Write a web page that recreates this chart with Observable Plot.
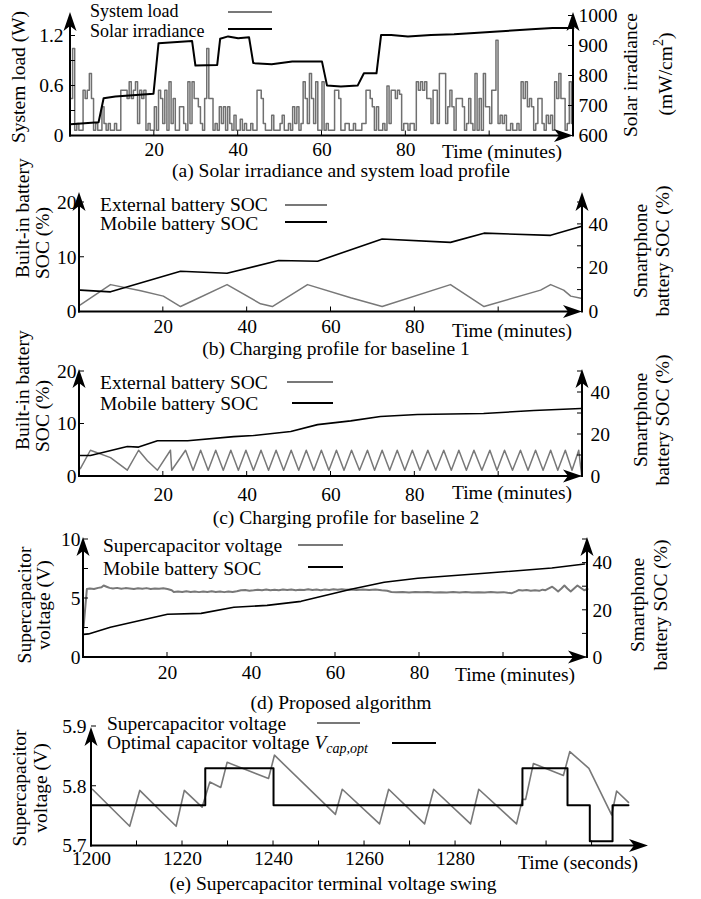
<!DOCTYPE html>
<html><head><meta charset="utf-8">
<script src="https://cdn.jsdelivr.net/npm/d3@7"></script>
<script src="https://cdn.jsdelivr.net/npm/@observablehq/plot@0.6"></script>
<style>
body{margin:0;background:#fff;}
#chart{position:relative;width:701px;height:899px;overflow:hidden;background:#fff;}
#chart svg{position:absolute;left:0;overflow:visible;}
</style></head><body><div id="chart"></div>
<script>
const FONT = "'Liberation Serif','Times New Roman',serif";
const FS = 19.5;
const GRAY = "#787878";

// ---------- (a) Solar irradiance and system load ----------
const loadStepMinutes = 0.5;
const systemLoad = [
 0.45,1.05,0.07,0.15,0.07,0.07,0.55,0.45,0.55,0.75,
 0.45,0.07,0.15,0.07,0.07,0.35,0.15,0.07,0.15,0.07,
 0.07,0.15,0.07,0.07,0.55,0.55,0.55,0.45,0.65,0.45,
 0.55,0.65,0.15,0.55,0.45,0.55,0.07,0.15,0.07,0.07,
 0.35,0.07,0.55,0.45,0.15,0.55,0.07,0.65,0.15,0.45,
 0.07,0.07,0.35,0.35,0.15,0.07,0.65,0.15,0.65,0.45,
 0.45,0.35,0.15,0.07,0.45,1.05,0.45,0.45,0.07,0.15,
 0.07,0.35,0.15,0.35,0.07,0.35,0.15,0.07,0.25,0.07,
 0.07,0.2,0.07,0.15,0.07,0.07,0.15,0.07,0.07,0.55,
 0.55,0.45,0.15,0.07,0.07,0.07,0.25,0.07,0.07,0.07,
 0.15,0.25,0.07,0.07,0.15,0.07,0.35,0.15,0.35,0.07,
 0.15,0.65,0.45,0.15,0.75,0.45,0.15,0.65,0.07,0.07,
 0.65,0.07,0.15,0.07,0.07,0.07,0.55,0.55,0.45,0.07,
 0.07,0.15,0.15,0.07,0.07,0.15,0.07,0.07,0.07,0.15,
 0.15,0.55,0.55,0.45,0.35,0.07,0.35,0.07,0.07,0.15,
 0.07,0.6,0.15,0.55,0.55,0.45,0.55,0.5,0.07,0.15,
 0.15,0.07,0.15,0.15,0.07,0.65,0.55,0.65,0.55,0.65,
 0.45,0.45,0.15,0.55,0.55,0.15,0.75,0.75,0.75,0.15,
 0.35,0.55,0.35,0.07,0.45,0.45,0.45,0.35,0.07,0.15,
 0.45,0.15,0.07,0.75,0.07,0.45,0.07,0.75,0.35,0.35,
 0.15,0.55,0.55,1.15,0.15,0.25,0.15,0.25,0.07,0.07,
 0.15,0.07,0.07,0.15,0.07,0.65,0.45,0.65,0.35,0.45,
 0.35,0.07,0.15,0.45,0.45,0.15,0.07,0.25,0.15,0.25,
 0.07,0.65,0.45,0.75,0.45,0.45,0.07,0.15,0.65,0.15
];
const irradiance = [[0,639],[6.7,646],[7.9,726],[10.7,732],[19.8,741],[21,909],[29,917],[29.8,835],[35,837],[35.7,924],[37.6,932],[40,926],[42.6,929],[43.6,843],[48,839],[52.9,848],[60,848],[61.2,768],[64.5,765],[68.5,768],[70,809],[73,809],[74.1,937],[76.5,937],[80.5,932],[86,937],[91.5,939],[96.3,943],[101.9,948],[110,956],[115,960],[120,960]];
const aXTicks = [20,40,60,80,100], aXLabels = [20,40,60,80];
const aLeftTicks = [0,0.3,0.6,0.9,1.2], aLeftLabels = [0,0.6,1.2];
const aRightTicks = [600,700,800,900,1000];

// ---------- (b) Baseline 1 ----------
const bExternal = [[0.2,1.3],[7.4,5.0],[14.6,3.9],[20,2.9],[24.1,1.0],[26.9,2.0],[35.2,5.0],[43.2,1.5],[46,1.0],[54.4,5.0],[64.7,2.6],[72.2,1.0],[88.5,5.0],[96.5,1.0],[110,4.0],[112.4,5.0],[115.5,4.0],[117.2,2.9],[119.6,2.5]];
const bMobile = [[0.2,10],[7.4,9.2],[24.1,18.6],[35.2,17.7],[47.5,23.5],[56.8,23.2],[72.2,33.3],[88.5,31.8],[96.5,36],[112.4,35],[119.6,39]];

// ---------- (c) Baseline 2 ----------
const cExternal = [[0.2,1.5],[2.6,5.0],[7.4,3.6],[11.4,1.2],[14.1,5.0],[16.2,3.0],[18.6,1.2],[21.7,5.0],[22.0,1.2],[25.3,5.0],[27.1,1.2],[28.9,5.0],[30.7,1.2],[32.5,5.0],[34.3,1.2],[36.1,5.0],[37.9,1.2],[39.7,5.0],[41.5,1.2],[43.3,5.0],[45.1,1.2],[46.9,5.0],[48.7,1.2],[50.5,5.0],[52.3,1.2],[54.1,5.0],[55.9,1.2],[57.7,5.0],[59.5,1.2],[61.3,5.0],[63.1,1.2],[64.9,5.0],[66.8,1.2],[68.7,5.0],[70.4,1.2],[72.2,5.0],[74.0,1.2],[75.8,5.0],[77.6,1.2],[79.4,5.0],[81.2,1.2],[83.1,5.0],[85.0,1.2],[86.9,5.0],[88.7,1.2],[90.5,5.0],[92.3,1.2],[94.1,5.0],[96.0,1.2],[97.9,5.0],[99.6,1.2],[101.4,5.0],[103.3,1.2],[105.2,5.0],[107.0,1.2],[108.8,5.0],[110.6,1.2],[112.4,5.0],[114.1,1.2],[115.9,5.0],[117.5,1.2],[119.1,5.0],[119.8,0.2]];
const cMobile = [[0.2,10],[2.6,10],[11.4,14.3],[14.1,14],[18.6,17],[25.8,17],[36.8,19],[41.5,19.5],[50.4,21.4],[56.8,24.7],[64.7,26.5],[71.8,28.6],[80.6,29.5],[96.4,30],[108.4,31.4],[119.6,32.4]];

// ---------- (d) Proposed ----------
const dSupercap = [[0,2.5],[0.8,5.8],[1.5,5.85],[2.5,5.8],[3.5,5.9],[4.3,5.95],[4.8,6.1],[5.5,6.0],[6.2,5.9],[7,5.85],[8,5.9],[9,5.82],[10,5.88],[11,5.85],[12,5.8],[13,5.86],[14,5.82],[15,5.88],[16,5.8],[17,5.85],[18,5.82],[19,5.86],[20,5.8],[21,5.7],[21.5,5.55],[22.5,5.6],[23.5,5.55],[24.5,5.62],[25.5,5.56],[26.5,5.6],[27.5,5.54],[28.5,5.6],[29.5,5.56],[30.5,5.62],[31.5,5.55],[32.5,5.6],[33.5,5.54],[34.5,5.6],[35.5,5.56],[36.5,5.62],[37.5,5.7],[38.5,5.72],[39.5,5.66],[40.5,5.7],[41.5,5.75],[42.5,5.7],[43.5,5.76],[44.5,5.7],[45.5,5.74],[46.5,5.7],[47.5,5.76],[48.5,5.72],[49.5,5.76],[50.5,5.7],[51.5,5.75],[52.5,5.72],[53.5,5.78],[54.5,5.72],[55.5,5.76],[56.5,5.7],[57.5,5.76],[58.5,5.72],[59.5,5.78],[60.5,5.74],[61.5,5.78],[62.5,5.74],[63.7,5.76],[65,5.72],[66.5,5.76],[68,5.72],[69.5,5.76],[71,5.7],[72.3,5.66],[73.3,5.55],[74.5,5.52],[76,5.56],[77.5,5.5],[79,5.55],[80.5,5.52],[82,5.56],[83.5,5.5],[85,5.54],[86.5,5.5],[88,5.55],[89.5,5.5],[91,5.56],[92.5,5.5],[94,5.54],[95.5,5.5],[97,5.55],[98.5,5.5],[100,5.54],[101,5.48],[102,5.45],[103,5.6],[103.6,5.72],[104.5,5.68],[105.5,5.72],[106.5,5.66],[107.5,5.7],[108.5,5.65],[109.3,5.75],[110,5.7],[110.8,5.85],[111.6,6.0],[112.3,5.8],[113,5.6],[113.8,5.85],[114.5,6.1],[115.2,5.85],[116,5.6],[116.8,5.85],[117.6,6.1],[118.4,5.9],[119.2,5.7],[120,5.8]];
const dMobile = [[0,9.8],[1.2,10],[6.4,12.8],[20,18.3],[28,18.7],[35.8,21.3],[43.7,22.1],[51.8,23.8],[63.7,28.9],[71.6,31.9],[79.6,33.6],[95.5,35.7],[111.5,37.9],[119.3,39.6]];

// ---------- (e) Voltage swing ----------
const eSupercap = [[1200.2,5.795],[1208.4,5.733],[1210.6,5.793],[1218.6,5.733],[1220.4,5.793],[1224.3,5.765],[1226,5.807],[1228.4,5.798],[1229.8,5.84],[1238.9,5.813],[1240.2,5.852],[1253.6,5.753],[1255.1,5.795],[1263.3,5.737],[1265.3,5.795],[1273.2,5.737],[1275.2,5.795],[1283.3,5.737],[1285.1,5.795],[1293.4,5.737],[1294.7,5.778],[1295.4,5.778],[1297.1,5.838],[1303.7,5.818],[1305.1,5.858],[1309.3,5.83],[1314.3,5.752],[1315.4,5.792],[1318,5.773]];
const eOptimal = [[1200,5.768],[1225,5.83],[1240,5.768],[1294.7,5.83],[1304.6,5.768],[1309.5,5.708],[1314.5,5.768],[1318,5.768]];

const rows = arr => arr.map(([t,v]) => ({t, v}));
const chart = document.getElementById("chart");

function txt(g, x, y, s, anchor, size) {
  const t = g.append("text").attr("x", x).attr("y", y).attr("dy", "0.35em").attr("text-anchor", anchor || "start").text(s);
  if (size) t.attr("font-size", size);
  return t;
}
function vtxt(g, x, y, s, anchor) {
  return g.append("text").attr("transform", `translate(${x},${y}) rotate(-90)`).attr("dy", "0.35em").attr("text-anchor", anchor || "middle").text(s);
}
function arrowUp(g, x, tip) {
  g.append("path").attr("d", `M${x},${tip}L${x-6.5},${tip+19}L${x},${tip+14}L${x+6.5},${tip+19}Z`).attr("fill", "#000");
}
function arrowRight(g, tip, y) {
  g.append("path").attr("d", `M${tip},${y}L${tip-19},${y-6.5}L${tip-14},${y}L${tip-19},${y+6.5}Z`).attr("fill", "#000");
}

function build(cfg) {
  const marks = [...cfg.marks,
    Plot.text(cfg.xLabels, {x: d => d, frameAnchor: "bottom", dy: cfg.xDy, lineAnchor: "middle", text: d => String(d), fontSize: FS, fill: "#000"}),
    Plot.text(cfg.leftLabels, {y: d => d, frameAnchor: "left", dx: cfg.leftDx, textAnchor: "end", lineAnchor: "middle", text: cfg.leftFmt || (d => String(d)), fontSize: FS, fill: "#000"})
  ];
  if (cfg.rightLabels) marks.push(Plot.text(cfg.rightLabels, {y: d => cfg.toLeft(d), frameAnchor: "right", dx: cfg.rightDx, textAnchor: "start", lineAnchor: "middle", text: d => String(d), fontSize: FS, fill: "#000"}));
  const svg = Plot.plot({
    width: 701, height: cfg.height,
    marginLeft: cfg.ml, marginRight: cfg.mr, marginTop: cfg.mt, marginBottom: cfg.mb,
    x: {domain: cfg.xDomain, axis: null},
    y: {domain: cfg.yDomain, axis: null},
    style: {fontFamily: FONT, fontSize: FS + "px", color: "#000", background: "transparent", overflow: "visible"},
    marks
  });
  svg.style.top = cfg.top + "px";
  chart.appendChild(svg);
  const sx = svg.scale("x"), sy = svg.scale("y");
  const x0 = sx.apply(cfg.xDomain[0]), x1 = sx.apply(cfg.xDomain[1]);
  const yb = sy.apply(cfg.yDomain[0]);
  const g = d3.select(svg).append("g").attr("font-family", FONT).attr("font-size", FS).attr("fill", "#000");
  cfg.xTicks.forEach(t => g.append("line").attr("x1", sx.apply(t)).attr("x2", sx.apply(t)).attr("y1", yb).attr("y2", yb - 5).attr("stroke", "#000"));
  cfg.leftTicks.forEach(t => g.append("line").attr("x1", x0).attr("x2", x0 + 5).attr("y1", sy.apply(t)).attr("y2", sy.apply(t)).attr("stroke", "#000"));
  if (cfg.rightTicks) cfg.rightTicks.forEach(t => g.append("line").attr("x1", x1).attr("x2", x1 - 5).attr("y1", sy.apply(cfg.toLeft(t))).attr("y2", sy.apply(cfg.toLeft(t))).attr("stroke", "#000"));
  g.append("line").attr("x1", x0).attr("x2", x0).attr("y1", yb + 1).attr("y2", cfg.tip + 12).attr("stroke", "#000").attr("stroke-width", 2);
  arrowUp(g, x0, cfg.tip);
  g.append("line").attr("x1", x0 - 1).attr("x2", x1 - 12).attr("y1", yb).attr("y2", yb).attr("stroke", "#000").attr("stroke-width", 2);
  arrowRight(g, x1, yb);
  if (cfg.rightTicks) {
    g.append("line").attr("x1", x1).attr("x2", x1).attr("y1", yb + 1).attr("y2", cfg.tip + 12).attr("stroke", "#000").attr("stroke-width", 2);
    arrowUp(g, x1, cfg.tip);
  }
  cfg.legend.forEach(L => {
    const t = txt(g, L.x, L.y, L.text, "start", L.size);
    if (L.extra) L.extra(t);
    g.append("line").attr("x1", L.l1).attr("x2", L.l2).attr("y1", L.ly).attr("y2", L.ly).attr("stroke", L.color).attr("stroke-width", 2);
  });
  cfg.vlabels.forEach(V => { const t = vtxt(g, V.x, V.y, V.text, V.anchor); if (V.extra) V.extra(t); });
  txt(g, cfg.xTitle[0], cfg.xTitle[1], cfg.xTitle[2], "end");
  txt(g, cfg.caption[0], cfg.caption[1], cfg.caption[2], "middle");
  return svg;
}

// (a)
const toLeftA = r => (r - 600) * 0.0036;
build({
  top: 0, height: 180, ml: 70, mr: 128, mt: 15.5, mb: 44.5, tip: 12,
  xDomain: [0, 120], yDomain: [0, 1.44], toLeft: toLeftA,
  xTicks: aXTicks, xLabels: aXLabels, xDy: 14,
  leftTicks: aLeftTicks, leftLabels: aLeftLabels, leftDx: -7, leftFmt: d => d === 0 ? "0" : d.toFixed(1),
  rightTicks: aRightTicks, rightLabels: aRightTicks, rightDx: 5,
  marks: [
    Plot.line(systemLoad.map((v, i) => ({t: i * loadStepMinutes, v})), {x: "t", y: "v", curve: "step-after", stroke: "#707070", strokeWidth: 1.5}),
    Plot.line(rows(irradiance), {x: "t", y: d => toLeftA(d.v), stroke: "#000", strokeWidth: 2})
  ],
  legend: [
    {text: "System load", x: 90, y: 10.5, l1: 228, l2: 272, ly: 12, color: GRAY, size: 18},
    {text: "Solar irradiance", x: 90, y: 30.5, l1: 228, l2: 272, ly: 29, color: "#000", size: 18}
  ],
  vlabels: [
    {text: "System load (W)", x: 18, y: 77},
    {text: "Solar irradiance", x: 630, y: 75},
    {text: "(mW/cm", x: 665, y: 74, extra: t => { t.append("tspan").attr("font-size", 14).attr("dy", "-0.6em").text("2"); t.append("tspan").attr("dy", "0.42em").text(")"); }}
  ],
  xTitle: [562, 151, "Time (minutes)"],
  caption: [341, 170, "(a) Solar irradiance and system load profile"]
});

// (b)
build({
  top: 180, height: 170, ml: 79, mr: 119, mt: 22, mb: 38.5, tip: 12,
  xDomain: [0, 120], yDomain: [0, 20], toLeft: r => r * 0.4,
  xTicks: aXTicks, xLabels: aXLabels, xDy: 14.5,
  leftTicks: [0, 10, 20], leftLabels: [0, 10, 20], leftDx: -3,
  rightTicks: [0, 10, 20, 30, 40, 50], rightLabels: [0, 20, 40], rightDx: 6,
  marks: [
    Plot.line(rows(bExternal), {x: "t", y: "v", stroke: GRAY, strokeWidth: 1.5}),
    Plot.line(rows(bMobile), {x: "t", y: d => d.v * 0.4, stroke: "#000", strokeWidth: 1.6})
  ],
  legend: [
    {text: "External battery SOC", x: 100, y: 24, l1: 285, l2: 327, ly: 25, color: GRAY},
    {text: "Mobile battery SOC", x: 100, y: 43, l1: 285, l2: 327, ly: 42, color: "#000"}
  ],
  vlabels: [
    {text: "Built-in battery", x: 22, y: 98, anchor: "start"},
    {text: "SOC (%)", x: 42, y: 99, anchor: "start"},
    {text: "Smartphone", x: 640, y: 71},
    {text: "battery SOC (%)", x: 662, y: 71}
  ],
  xTitle: [572, 150, "Time (minutes)"],
  caption: [336, 168, "(b) Charging profile for baseline 1"]
});

// (c)
build({
  top: 350, height: 170, ml: 79, mr: 119, mt: 21, mb: 44, tip: 19,
  xDomain: [0, 120], yDomain: [0, 20], toLeft: r => r * 0.4,
  xTicks: aXTicks, xLabels: aXLabels, xDy: 18,
  leftTicks: [0, 10, 20], leftLabels: [0, 10, 20], leftDx: -3,
  rightTicks: [0, 10, 20, 30, 40, 50], rightLabels: [0, 20, 40], rightDx: 8,
  marks: [
    Plot.line(rows(cExternal), {x: "t", y: "v", stroke: GRAY, strokeWidth: 1.5}),
    Plot.line(rows(cMobile), {x: "t", y: d => d.v * 0.4, stroke: "#000", strokeWidth: 1.6})
  ],
  legend: [
    {text: "External battery SOC", x: 100, y: 32, l1: 287, l2: 333, ly: 32, color: GRAY},
    {text: "Mobile battery SOC", x: 100, y: 53, l1: 292, l2: 333, ly: 53, color: "#000"}
  ],
  vlabels: [
    {text: "Built-in battery", x: 22, y: 100, anchor: "start"},
    {text: "SOC (%)", x: 42, y: 102, anchor: "start"},
    {text: "Smartphone", x: 640, y: 70},
    {text: "battery SOC (%)", x: 662, y: 70}
  ],
  xTitle: [572, 142, "Time (minutes)"],
  caption: [346, 167, "(c) Charging profile for baseline 2"]
});

// (d)
build({
  top: 520, height: 190, ml: 83, mr: 114, mt: 19, mb: 53, tip: 17,
  xDomain: [0, 120], yDomain: [0, 10], toLeft: r => r * 0.2,
  xTicks: aXTicks, xLabels: aXLabels, xDy: 15.5,
  leftTicks: [0, 2.5, 5, 7.5, 10], leftLabels: [0, 5, 10], leftDx: -3,
  rightTicks: [0, 10, 20, 30, 40, 50], rightLabels: [0, 20, 40], rightDx: 5,
  marks: [
    Plot.line(rows(dSupercap), {x: "t", y: "v", stroke: GRAY, strokeWidth: 2}),
    Plot.line(rows(dMobile), {x: "t", y: d => d.v * 0.2, stroke: "#000", strokeWidth: 1.6})
  ],
  legend: [
    {text: "Supercapacitor voltage", x: 103, y: 25, l1: 298, l2: 343, ly: 25, color: GRAY},
    {text: "Mobile battery SOC", x: 103, y: 48, l1: 308, l2: 343, ly: 47, color: "#000"}
  ],
  vlabels: [
    {text: "Supercapacitor", x: 24, y: 85},
    {text: "voltage (V)", x: 43, y: 85},
    {text: "Smartphone", x: 637, y: 85},
    {text: "battery SOC (%)", x: 660, y: 85}
  ],
  xTitle: [575, 154, "Time (minutes)"],
  caption: [341, 182, "(d) Proposed algorithm"]
});

// (e)
build({
  top: 710, height: 189, ml: 91, mr: 53, mt: 16, mb: 53.5, tip: 17,
  xDomain: [1200, 1322.4], yDomain: [5.7, 5.9],
  xTicks: [1210,1220,1230,1240,1250,1260,1270,1280,1290,1300,1310], xLabels: [1200,1220,1240,1260,1280], xDy: 13,
  leftTicks: [5.7, 5.8, 5.9], leftLabels: [5.7, 5.8, 5.9], leftDx: -5, leftFmt: d => d.toFixed(1),
  marks: [
    Plot.line(rows(eSupercap), {x: "t", y: "v", stroke: GRAY, strokeWidth: 1.6}),
    Plot.line(rows(eOptimal), {x: "t", y: "v", curve: "step-after", stroke: "#000", strokeWidth: 2})
  ],
  legend: [
    {text: "Supercapacitor voltage", x: 107, y: 13, l1: 317, l2: 360, ly: 13, color: GRAY},
    {text: "Optimal capacitor voltage ", x: 107, y: 32, l1: 392, l2: 436, ly: 33, color: "#000",
      extra: t => { t.append("tspan").attr("font-style", "italic").text("V"); t.append("tspan").attr("font-style", "italic").attr("font-size", 14).attr("dy", "0.3em").text("cap,opt"); }}
  ],
  vlabels: [
    {text: "Supercapacitor", x: 19, y: 78},
    {text: "voltage (V)", x: 40, y: 78}
  ],
  xTitle: [638, 152, "Time (seconds)"],
  caption: [333, 173, "(e) Supercapacitor terminal voltage swing"]
});
</script></body></html>
